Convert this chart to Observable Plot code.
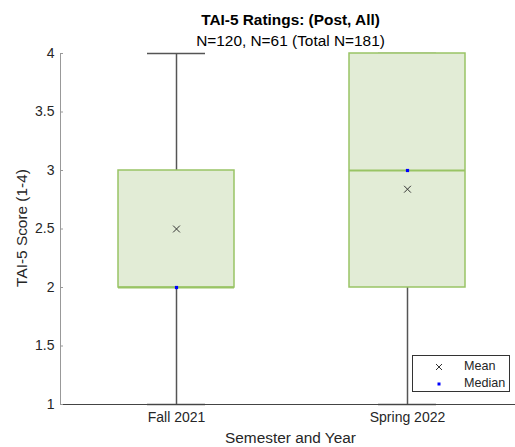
<!DOCTYPE html>
<html><head><meta charset="utf-8">
<script src="https://cdn.jsdelivr.net/npm/d3@7"></script>
<script src="https://cdn.jsdelivr.net/npm/@observablehq/plot@0.6"></script>
<style>
body{margin:0;background:#fff;font-family:"Liberation Sans",Arial,sans-serif;color:#262626;}
#wrap{position:relative;width:515px;height:447px;overflow:hidden;}
#chart svg{position:absolute;left:0;top:0;}
.t{position:absolute;white-space:nowrap;line-height:1;}
#title{left:60px;width:461px;text-align:center;top:12px;font-weight:bold;font-size:15.4px;color:#000;}
#subtitle{left:60px;width:461px;text-align:center;top:33px;font-size:15.4px;color:#000;}
#xlabel{left:60px;width:461px;text-align:center;top:430px;font-size:15.4px;}
#ylabel{left:22px;top:228px;font-size:15.4px;transform:translate(-50%,-50%) rotate(-90deg);}
#legend{position:absolute;left:412px;top:355px;width:96px;height:35px;border:1px solid #333;background:#fff;font-size:12.6px;}
.lrow{position:absolute;left:0;width:96px;height:16px;}
.lrow svg{position:absolute;left:20px;top:3px;}
.lrow span{position:absolute;left:51px;top:2px;line-height:1;}
</style></head><body>
<div id="wrap">
  <div id="chart"></div>
  <div class="t" id="title"></div>
  <div class="t" id="subtitle"></div>
  <div class="t" id="xlabel"></div>
  <div class="t" id="ylabel"></div>
  <div id="legend">
    <div class="lrow" style="top:2px"><svg width="12" height="12"><path d="M3,3L9,9M9,3L3,9" stroke="#333" stroke-width="1"/></svg><span>Mean</span></div>
    <div class="lrow" style="top:19px"><svg width="12" height="12"><rect x="4.5" y="4.5" width="3" height="3" fill="#0000ff"/></svg><span>Median</span></div>
  </div>
</div>
<script>
const semesters = ["Fall 2021", "Spring 2022"];
const minValues = [1, 1];
const q1Values = [2, 2];
const medianValues = [2, 3];
const q3Values = [3, 4];
const maxValues = [4, 4];
const meanValues = [2.5, 2.84];
const yTicks = [1, 1.5, 2, 2.5, 3, 3.5, 4];
const titleText = "TAI-5 Ratings: (Post, All)";
const subtitleText = "N=120, N=61 (Total N=181)";
const xLabelText = "Semester and Year";
const yLabelText = "TAI-5 Score (1-4)";

const rows = semesters.map((s, i) => ({
  semester: s, min: minValues[i], q1: q1Values[i], median: medianValues[i],
  q3: q3Values[i], max: maxValues[i], mean: meanValues[i]
}));

document.getElementById("title").textContent = titleText;
document.getElementById("subtitle").textContent = subtitleText;
document.getElementById("xlabel").textContent = xLabelText;
document.getElementById("ylabel").textContent = yLabelText;

const whisker = "#555555";
const boxFill = "#e2ecd6";
const boxStroke = "#99c465";

const chart = Plot.plot({
  width: 515, height: 447,
  marginTop: 53, marginBottom: 43, marginLeft: 60, marginRight: 0,
  style: {fontFamily: '"Liberation Sans", Arial, sans-serif', fontSize: "14px", color: "#262626", background: "transparent"},
  x: {type: "band", domain: semesters, range: [60, 522], paddingInner: 0.5, paddingOuter: 0.25, label: null},
  y: {domain: [1, 4], label: null},
  marks: [
    Plot.ruleX(rows, {x: "semester", y1: "min", y2: "q1", stroke: whisker, strokeWidth: 1.5}),
    Plot.ruleX(rows, {x: "semester", y1: "q3", y2: "max", stroke: whisker, strokeWidth: 1.5}),
    Plot.tickY(rows, {x: "semester", y: "min", insetLeft: 29, insetRight: 29, stroke: whisker, strokeWidth: 1.5}),
    Plot.tickY(rows, {x: "semester", y: "max", insetLeft: 29, insetRight: 29, stroke: whisker, strokeWidth: 1.5}),
    Plot.barY(rows, {x: "semester", y1: "q1", y2: "q3", fill: boxFill, stroke: boxStroke, strokeWidth: 1.5}),
    Plot.tickY(rows, {x: "semester", y: "median", stroke: boxStroke, strokeWidth: 2}),
    Plot.dot(rows, {x: "semester", y: "mean", symbol: "times", r: 3.2, stroke: "#333", strokeWidth: 1}),
    Plot.dot(rows, {x: "semester", y: "median", symbol: "square", r: 1.8, fill: "#0000ff", stroke: null}),
    Plot.ruleY([1], {stroke: "#444", strokeWidth: 1}),
    Plot.frame({anchor: "left", stroke: "#999", strokeWidth: 1}),
    Plot.axisY({ticks: yTicks, tickSize: -3, tickPadding: 9, tickFormat: d => String(d), stroke: "#999", color: "#262626", label: null}),
    Plot.axisX({tickSize: 0, tickPadding: 8, label: null})
  ]
});
document.getElementById("chart").appendChild(chart);
</script>
</body></html>
